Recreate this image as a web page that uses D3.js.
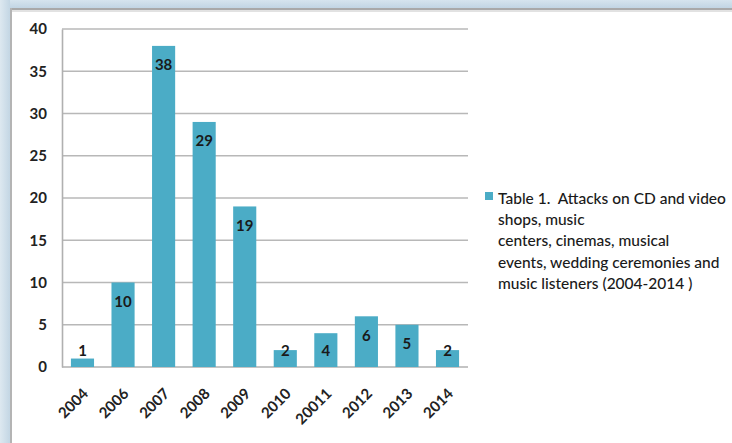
<!DOCTYPE html>
<html>
<head>
<meta charset="utf-8">
<script src="https://cdn.jsdelivr.net/npm/d3@7/dist/d3.min.js"></script>
<style>
  html, body { margin: 0; padding: 0; background: #ffffff; }
  svg { display: block; }
  text { font-family: Lato, "Open Sans", sans-serif; }
</style>
</head>
<body>
<svg id="chart" width="732" height="443"></svg>
<script>
const categories = ["2004", "2006", "2007", "2008", "2009", "2010", "20011", "2012", "2013", "2014"];
const values = [1, 10, 38, 29, 19, 2, 4, 6, 5, 2];
const yTicks = [0, 5, 10, 15, 20, 25, 30, 35, 40];
const legendLines = [
  "Table 1.  Attacks on CD and video",
  "shops, music",
  "centers, cinemas, musical",
  "events, wedding ceremonies and",
  "music listeners (2004-2014 )"
];

const svg = d3.select("#chart");
const W = 732, H = 443;

// outer frame
const defs = svg.append("defs");
const gTop = defs.append("linearGradient").attr("id", "gt").attr("x1", 0).attr("y1", 0).attr("x2", 0).attr("y2", 1);
gTop.append("stop").attr("offset", "0%").attr("stop-color", "#d6e4ee");
gTop.append("stop").attr("offset", "100%").attr("stop-color", "#bfd3e2");
const gLeft = defs.append("linearGradient").attr("id", "gl").attr("x1", 0).attr("y1", 0).attr("x2", 1).attr("y2", 0);
gLeft.append("stop").attr("offset", "0%").attr("stop-color", "#dde8f0");
gLeft.append("stop").attr("offset", "100%").attr("stop-color", "#c3d6e4");
svg.append("rect").attr("x", 0).attr("y", 0).attr("width", W).attr("height", 9).attr("fill", "url(#gt)");
svg.append("rect").attr("x", 0).attr("y", 0).attr("width", 10).attr("height", H).attr("fill", "url(#gl)");
svg.append("rect").attr("x", 10).attr("y", 8).attr("width", W - 10).attr("height", 2).attr("fill", "#a9a9a9");
svg.append("rect").attr("x", 10).attr("y", 8).attr("width", 2).attr("height", H - 8).attr("fill", "#b4b4b4");
svg.append("rect").attr("x", 12).attr("y", 10).attr("width", W - 12).attr("height", 2).attr("fill", "#e2e2e2");

const margin = { left: 62, top: 29, right: 468, bottom: 367 };
const x = d3.scaleBand().domain(categories).range([margin.left, margin.right]).paddingInner(0.43).paddingOuter(0.22);
const y = d3.scaleLinear().domain([0, 40]).range([margin.bottom, margin.top]);

// gridlines
svg.append("g").selectAll("line").data(yTicks.filter(d => d > 0)).join("line")
  .attr("x1", margin.left).attr("x2", margin.right)
  .attr("y1", d => y(d)).attr("y2", d => y(d))
  .attr("stroke", "#b8b8b8").attr("stroke-width", 1.6);

// y axis
const yAxis = svg.append("g").attr("transform", `translate(${margin.left},0)`)
  .call(d3.axisLeft(y).tickValues(yTicks).tickSize(0).tickPadding(15));
yAxis.select(".domain").attr("stroke", "#b0b0b0").attr("stroke-width", 1.6);
yAxis.selectAll("text").attr("font-size", 15).attr("fill", "#222").attr("font-weight", 700);

// x baseline
svg.append("line").attr("x1", margin.left).attr("x2", margin.right)
  .attr("y1", y(0)).attr("y2", y(0)).attr("stroke", "#b0b0b0").attr("stroke-width", 1.6);

// bars
svg.append("g").selectAll("rect").data(values).join("rect")
  .attr("x", (d, i) => x(categories[i]))
  .attr("width", x.bandwidth())
  .attr("y", d => y(d))
  .attr("height", d => y(0) - y(d))
  .attr("fill", "#4bacc6");

// data labels
svg.append("g").selectAll("text").data(values).join("text")
  .attr("x", (d, i) => x(categories[i]) + x.bandwidth() / 2)
  .attr("y", d => Math.min(y(d) + 19, y(0) - 16))
  .attr("dy", "0.35em")
  .attr("text-anchor", "middle")
  .attr("font-size", 15).attr("font-weight", 700).attr("fill", "#1a1a1a")
  .text(d => d);

// x axis labels
const xAxis = svg.append("g").attr("transform", `translate(0,${y(0)})`)
  .call(d3.axisBottom(x).tickSize(0).tickPadding(0));
xAxis.select(".domain").remove();
xAxis.selectAll("text")
  .attr("font-size", 15).attr("font-weight", 700).attr("fill", "#222")
  .attr("text-anchor", "end")
  .attr("dy", "0.35em")
  .attr("transform", "translate(3,24) rotate(-45)");

// legend
const lg = svg.append("g");
lg.append("rect").attr("x", 485).attr("y", 192).attr("width", 8).attr("height", 8).attr("fill", "#4bacc6");
lg.selectAll("text").data(legendLines).join("text")
  .attr("x", 498).attr("y", (d, i) => 204 + i * 21.2)
  .attr("font-size", 15.5).attr("fill", "#1a1a1a").attr("font-weight", 500)
  .style("white-space", "pre")
  .text(d => d);
</script>
</body>
</html>
